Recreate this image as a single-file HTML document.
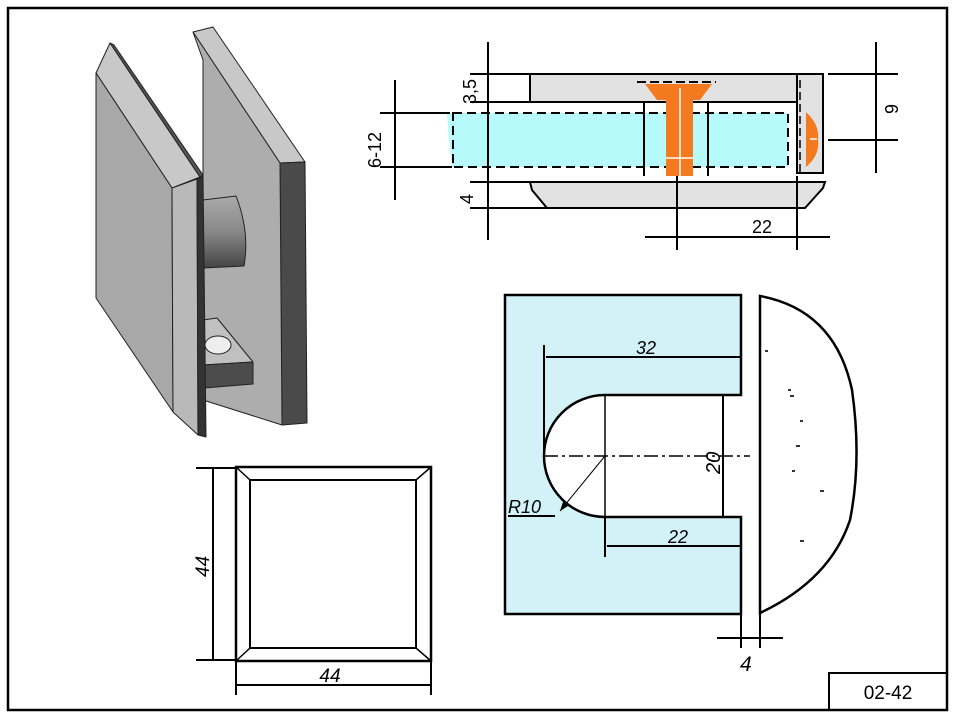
<!DOCTYPE html>
<html><head><meta charset="utf-8"><style>
html,body{margin:0;padding:0;background:#fff;width:957px;height:719px;overflow:hidden}
svg{display:block}
text{font-family:"Liberation Sans",sans-serif;fill:#000}
</style></head><body>
<svg width="957" height="719" viewBox="0 0 957 719" xmlns="http://www.w3.org/2000/svg">
<defs>
<linearGradient id="cyl" x1="0" y1="0" x2="0" y2="1"><stop offset="0" stop-color="#aaa"/><stop offset="0.5" stop-color="#888"/><stop offset="1" stop-color="#444"/></linearGradient>
</defs>
<rect x="8" y="8" width="939" height="702" fill="none" stroke="#000" stroke-width="2.5"/>
<rect x="829" y="673" width="118" height="37" fill="none" stroke="#000" stroke-width="2"/>
<text x="888" y="699" font-size="19" text-anchor="middle">02-42</text>

<g stroke="#222" stroke-width="1" stroke-linejoin="round">
 <polygon points="193,32 213,27 305,162 280,163" fill="#c8c8c8"/>
 <polygon points="280,163 305,162 307,423 282,425" fill="#4a4a4a"/>
 <polygon points="193,32 280,163 282,425 203,400 203,60" fill="#adadad"/>
 <path d="M203,200 L236,196 Q250,232 244,266 L203,268 Z" fill="url(#cyl)"/>
 <polygon points="203,320 217,318 253,362 203,365" fill="#c0c0c0"/>
 <ellipse cx="218" cy="345" rx="13" ry="9" fill="#eee"/>
 <polygon points="203,365 253,362 253,384 204,388" fill="#4c4c4c"/>
 <polygon points="96,73 110,43 200,177 172,188" fill="#c8c8c8"/>
 <polygon points="110,43 114,45 203,175 200,177" fill="#555"/>
 <polygon points="96,73 172,188 173,412 96,298" fill="#a8a8a8"/>
 <polygon points="172,188 197,179 198,435 173,412" fill="#b9b9b9"/>
 <polygon points="197,179 203,176 206,437 198,435" fill="#333"/>
</g>

<g stroke="#000" stroke-width="2" fill="none">
 <rect x="530" y="74" width="293" height="28" fill="#e2e2e2"/>
 <rect x="797" y="74" width="26" height="99" fill="#e2e2e2"/>
 <polygon points="447,113 788,113 788,167 452,167 449,140" fill="#b6fafc" stroke="none"/>
 <rect x="453" y="113" width="335" height="54" stroke-dasharray="9,5"/>
 <line x1="530" y1="102" x2="797" y2="102"/>
 <line x1="490" y1="182" x2="797" y2="182"/>
 <polygon points="530,182 825,182 823,188 805,208 547,208 532,190" fill="#e2e2e2"/>
 <line x1="637" y1="82" x2="716" y2="82" stroke-dasharray="9,4"/>
 <line x1="644" y1="102" x2="644" y2="176"/>
 <line x1="708" y1="102" x2="708" y2="176"/>
 <line x1="800" y1="80" x2="800" y2="172" stroke-dasharray="8,4" stroke-width="1.5"/>
</g>
<polygon points="645,84 712,84 700,100 657,100" fill="#f47a20"/>
<rect x="666" y="100" width="27" height="76" fill="#f47a20"/>
<g stroke="#fff" stroke-width="1.5"><line x1="680" y1="88" x2="680" y2="178"/><line x1="666" y1="158" x2="693" y2="158"/></g>
<path d="M806,112 Q820,125 818,140 Q820,155 806,167 Z" fill="#f47a20"/>
<line x1="810" y1="139" x2="817" y2="139" stroke="#fff" stroke-width="1.5"/>

<g stroke="#000" stroke-width="2">
 <line x1="488" y1="42" x2="488" y2="240"/>
 <line x1="470" y1="74" x2="530" y2="74"/><line x1="470" y1="102" x2="530" y2="102"/>
 <line x1="470" y1="182" x2="530" y2="182"/><line x1="470" y1="208" x2="547" y2="208"/>
 <line x1="395" y1="80" x2="395" y2="200"/>
 <line x1="380" y1="113" x2="450" y2="113"/><line x1="380" y1="167" x2="452" y2="167"/>
 <line x1="876" y1="42" x2="876" y2="173"/>
 <line x1="828" y1="74" x2="898" y2="74"/><line x1="828" y1="140" x2="898" y2="140"/>
 <line x1="645" y1="237" x2="830" y2="237"/>
 <line x1="677" y1="176" x2="677" y2="250"/><line x1="797" y1="176" x2="797" y2="250"/>
</g>
<text x="0" y="0" font-size="18" transform="translate(476,104) rotate(-90)">3,5</text>
<text x="0" y="0" font-size="18" transform="translate(473,204) rotate(-90)">4</text>
<text x="0" y="0" font-size="18" transform="translate(381,168) rotate(-90)">6-12</text>
<text x="0" y="0" font-size="18" transform="translate(898,114) rotate(-90)">9</text>
<text x="762" y="233" font-size="18" text-anchor="middle">22</text>

<g stroke="#000" fill="none">
 <rect x="236" y="467" width="195" height="194" stroke-width="2.5"/>
 <rect x="250" y="480" width="166" height="168" stroke-width="2"/>
 <g stroke-width="1.5"><line x1="236" y1="467" x2="250" y2="480"/><line x1="431" y1="467" x2="416" y2="480"/><line x1="236" y1="661" x2="250" y2="648"/><line x1="431" y1="661" x2="416" y2="648"/></g>
 <g stroke-width="2"><line x1="213" y1="468" x2="213" y2="660"/><line x1="196" y1="468" x2="236" y2="468"/><line x1="196" y1="660" x2="236" y2="660"/>
 <line x1="237" y1="685" x2="431" y2="685"/><line x1="236" y1="661" x2="236" y2="695"/><line x1="431" y1="661" x2="431" y2="695"/></g>
</g>
<text x="330" y="682" font-size="19" font-style="italic" text-anchor="middle">44</text>
<text x="0" y="0" font-size="19" font-style="italic" transform="translate(209,577) rotate(-90)">44</text>

<path d="M505,295 H741 V395 H605 A61,61 0 0 0 605,517 H741 V614 H505 Z" fill="#d2f2f8" stroke="#000" stroke-width="2.5"/>
<path d="M760,296 Q835,310 852,390 Q862,460 850,520 Q830,580 760,613 Z" fill="#fff" stroke="#000" stroke-width="2.5"/>
<g fill="#333"><rect x="790" y="395" width="4" height="2"/><rect x="800" y="420" width="3" height="2"/><rect x="796" y="445" width="4" height="2"/><rect x="792" y="470" width="3" height="2"/><rect x="820" y="490" width="4" height="2"/><rect x="800" y="540" width="4" height="2"/><rect x="765" y="350" width="3" height="2"/><rect x="788" y="389" width="3" height="2"/></g>
<g stroke="#000" stroke-width="2">
 <line x1="546" y1="357" x2="740" y2="357"/><line x1="544" y1="345" x2="544" y2="456"/>
 <line x1="607" y1="546" x2="740" y2="546"/><line x1="605" y1="517" x2="605" y2="557"/>
 <line x1="723" y1="396" x2="723" y2="517"/>
 <line x1="741" y1="614" x2="741" y2="648"/><line x1="760" y1="614" x2="760" y2="648"/>
 <line x1="717" y1="638" x2="783" y2="638"/>
 <line x1="508" y1="516" x2="555" y2="516"/>
</g>
<line x1="605" y1="395" x2="605" y2="517" stroke="#000" stroke-width="1.5"/>
<line x1="544" y1="456" x2="750" y2="456" stroke="#000" stroke-width="1.5" stroke-dasharray="14,4,3,4"/>
<line x1="605" y1="456" x2="560" y2="511" stroke="#000" stroke-width="1"/>
<polygon points="560,511 563,502 568,506" fill="#000"/>
<text x="646" y="354" font-size="18" font-style="italic" text-anchor="middle">32</text>
<text x="678" y="543" font-size="18" font-style="italic" text-anchor="middle">22</text>
<text x="0" y="0" font-size="20" font-style="italic" transform="translate(720,474) rotate(-90)">20</text>
<text x="508" y="513" font-size="18" font-style="italic">R10</text>
<text x="740" y="671" font-size="21" font-style="italic">4</text>
</svg>
</body></html>
